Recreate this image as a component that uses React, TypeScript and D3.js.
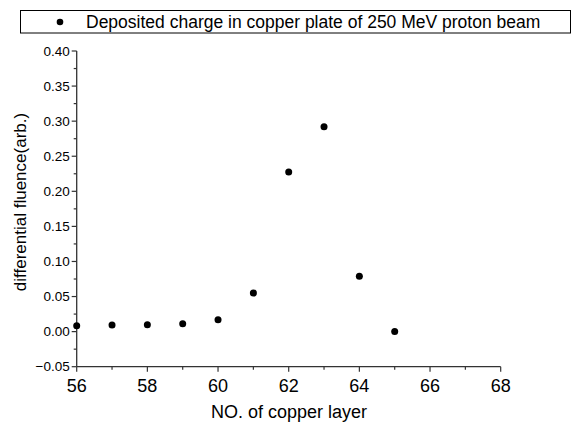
import React from "react";
import * as d3 from "d3";

const layers = [56, 57, 58, 59, 60, 61, 62, 63, 64, 65];
const fluence = [0.0085, 0.0094, 0.0099, 0.0113, 0.017, 0.055, 0.2275, 0.292, 0.079, 0.0];
const xTicks = [56, 58, 60, 62, 64, 66, 68];
const yTicks = [-0.05, 0, 0.05, 0.1, 0.15, 0.2, 0.25, 0.3, 0.35, 0.4];
const legendLabel = "Deposited charge in copper plate of 250 MeV proton beam";

export default function App() {
  const W = 573, H = 422;
  const x = d3.scaleLinear().domain([56, 68]).range([76.7, 500.7]);
  const y = d3.scaleLinear().domain([-0.05, 0.4]).range([366.7, 51]);
  const xMinor = d3.range(57, 68, 2);
  const yMinor = d3.range(-0.025, 0.4, 0.05);
  const font = "'Liberation Sans', Arial, sans-serif";
  return (
    <svg width={W} height={H} style={{ position: "absolute", left: 0, top: 0, background: "#fff" }} fontFamily={font}>
      <rect x={0} y={0} width={W} height={H} fill="#fff" />
      {/* legend */}
      <rect x={20.5} y={10.5} width={550} height={22.5} fill="none" stroke="#000" strokeWidth={1} />
      <circle cx={60} cy={22} r={3.3} fill="#000" />
      <text x={86} y={28} fontSize={17.5} fill="#000">{legendLabel}</text>
      {/* axes */}
      <line x1={x(56)} x2={x(68)} y1={y(-0.05)} y2={y(-0.05)} stroke="#333" strokeWidth={1.3} />
      <line x1={x(56)} x2={x(56)} y1={y(-0.05)} y2={y(0.4)} stroke="#333" strokeWidth={1.3} />
      {xTicks.map((t) => (
        <g key={"xt" + t}>
          <line x1={x(t)} x2={x(t)} y1={y(-0.05)} y2={y(-0.05) + 5} stroke="#333" strokeWidth={1.2} />
          <text x={x(t)} y={y(-0.05) + 25} fontSize={18} textAnchor="middle" fill="#000">{t}</text>
        </g>
      ))}
      {xMinor.map((t) => (
        <line key={"xm" + t} x1={x(t)} x2={x(t)} y1={y(-0.05)} y2={y(-0.05) + 3} stroke="#333" strokeWidth={1.2} />
      ))}
      {yTicks.map((t) => (
        <g key={"yt" + t}>
          <line x1={x(56) - 5} x2={x(56)} y1={y(t)} y2={y(t)} stroke="#333" strokeWidth={1.2} />
          <text x={x(56) - 7} y={y(t) + 4.5} fontSize={13.5} textAnchor="end" fill="#000">{d3.format(".2f")(t)}</text>
        </g>
      ))}
      {yMinor.map((t, i) => (
        <line key={"ym" + i} x1={x(56) - 3} x2={x(56)} y1={y(t)} y2={y(t)} stroke="#333" strokeWidth={1.2} />
      ))}
      {/* labels */}
      <text x={289} y={418} fontSize={18} textAnchor="middle" fill="#000">NO. of copper layer</text>
      <text transform={`translate(26,202) rotate(-90)`} fontSize={17} textAnchor="middle" fill="#000">differential fluence(arb.)</text>
      {/* points */}
      {layers.map((l, i) => (
        <circle key={"p" + l} cx={x(l)} cy={y(fluence[i])} r={3.5} fill="#000" />
      ))}
    </svg>
  );
}
